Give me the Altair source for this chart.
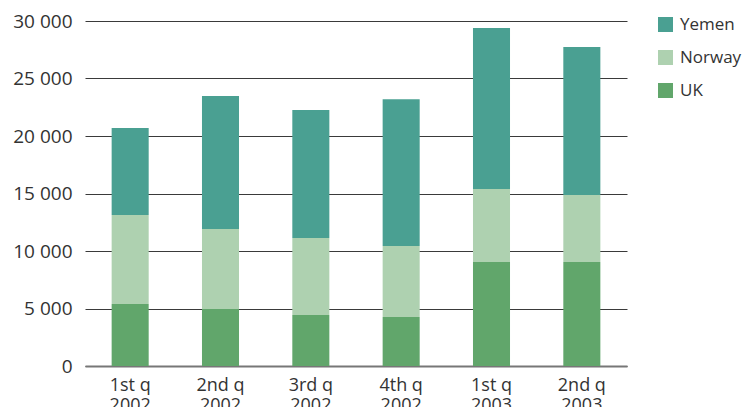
import altair as alt
import pandas as pd

quarters = ["1st q|2002", "2nd q|2002", "3rd q|2002", "4th q|2002", "1st q|2003", "2nd q|2003"]
uk = [5390, 4960, 4430, 4260, 9040, 9040]
norway = [7740, 6950, 6700, 6170, 6350, 5830]
yemen = [7570, 11570, 11130, 12770, 14010, 12870]
series = ["Yemen", "Norway", "UK"]
colors = ["#4aa092", "#aed1b0", "#61a66b"]
y_ticks = [0, 5000, 10000, 15000, 20000, 25000, 30000]

rows = []
for i, q in enumerate(quarters):
    rows.append({"q": q, "country": "UK", "value": uk[i], "ord": 0})
    rows.append({"q": q, "country": "Norway", "value": norway[i], "ord": 1})
    rows.append({"q": q, "country": "Yemen", "value": yemen[i], "ord": 2})
df = pd.DataFrame(rows)

FONT = "Open Sans"

chart = alt.Chart(df).mark_bar().encode(
    x=alt.X("q:N", sort=quarters, title=None,
            scale=alt.Scale(paddingInner=0.59, paddingOuter=0.295),
            axis=alt.Axis(labelExpr="split(datum.label, '|')", labelAngle=0, ticks=False,
                          domain=True, domainColor="#777777", domainWidth=2,
                          labelPadding=10, labelLineHeight=20, labelFontSize=18,
                          labelColor="#333333", labelFont=FONT, labelBaseline="top")),
    y=alt.Y("value:Q", stack="zero",
            scale=alt.Scale(domain=[0, 30000], nice=False),
            axis=alt.Axis(values=y_ticks, title=None, domain=False, ticks=False, grid=True,
                          gridColor="#3a3a3a", gridWidth=1,
                          labelExpr="replace(format(datum.value, ','), ',', ' ')",
                          labelPadding=13, labelFontSize=19, labelColor="#333333",
                          labelFont=FONT)),
    color=alt.Color("country:N", scale=alt.Scale(domain=series, range=colors),
                    legend=alt.Legend(title=None, orient="none", legendX=572, legendY=-5,
                                      symbolType="square", symbolSize=225,
                                      symbolStrokeWidth=0, labelFontSize=17,
                                      labelColor="#333333", labelFont=FONT,
                                      rowPadding=15, labelOffset=6)),
    order=alt.Order("ord:Q"),
).properties(
    width=542, height=345,
    autosize=alt.AutoSizeParams(type="none"),
    padding={"left": 77, "top": 13, "right": 116, "bottom": 41},
).configure(font=FONT).configure_view(stroke=None)

chart.save("out.html", embed_options={"renderer": "svg", "actions": False})
